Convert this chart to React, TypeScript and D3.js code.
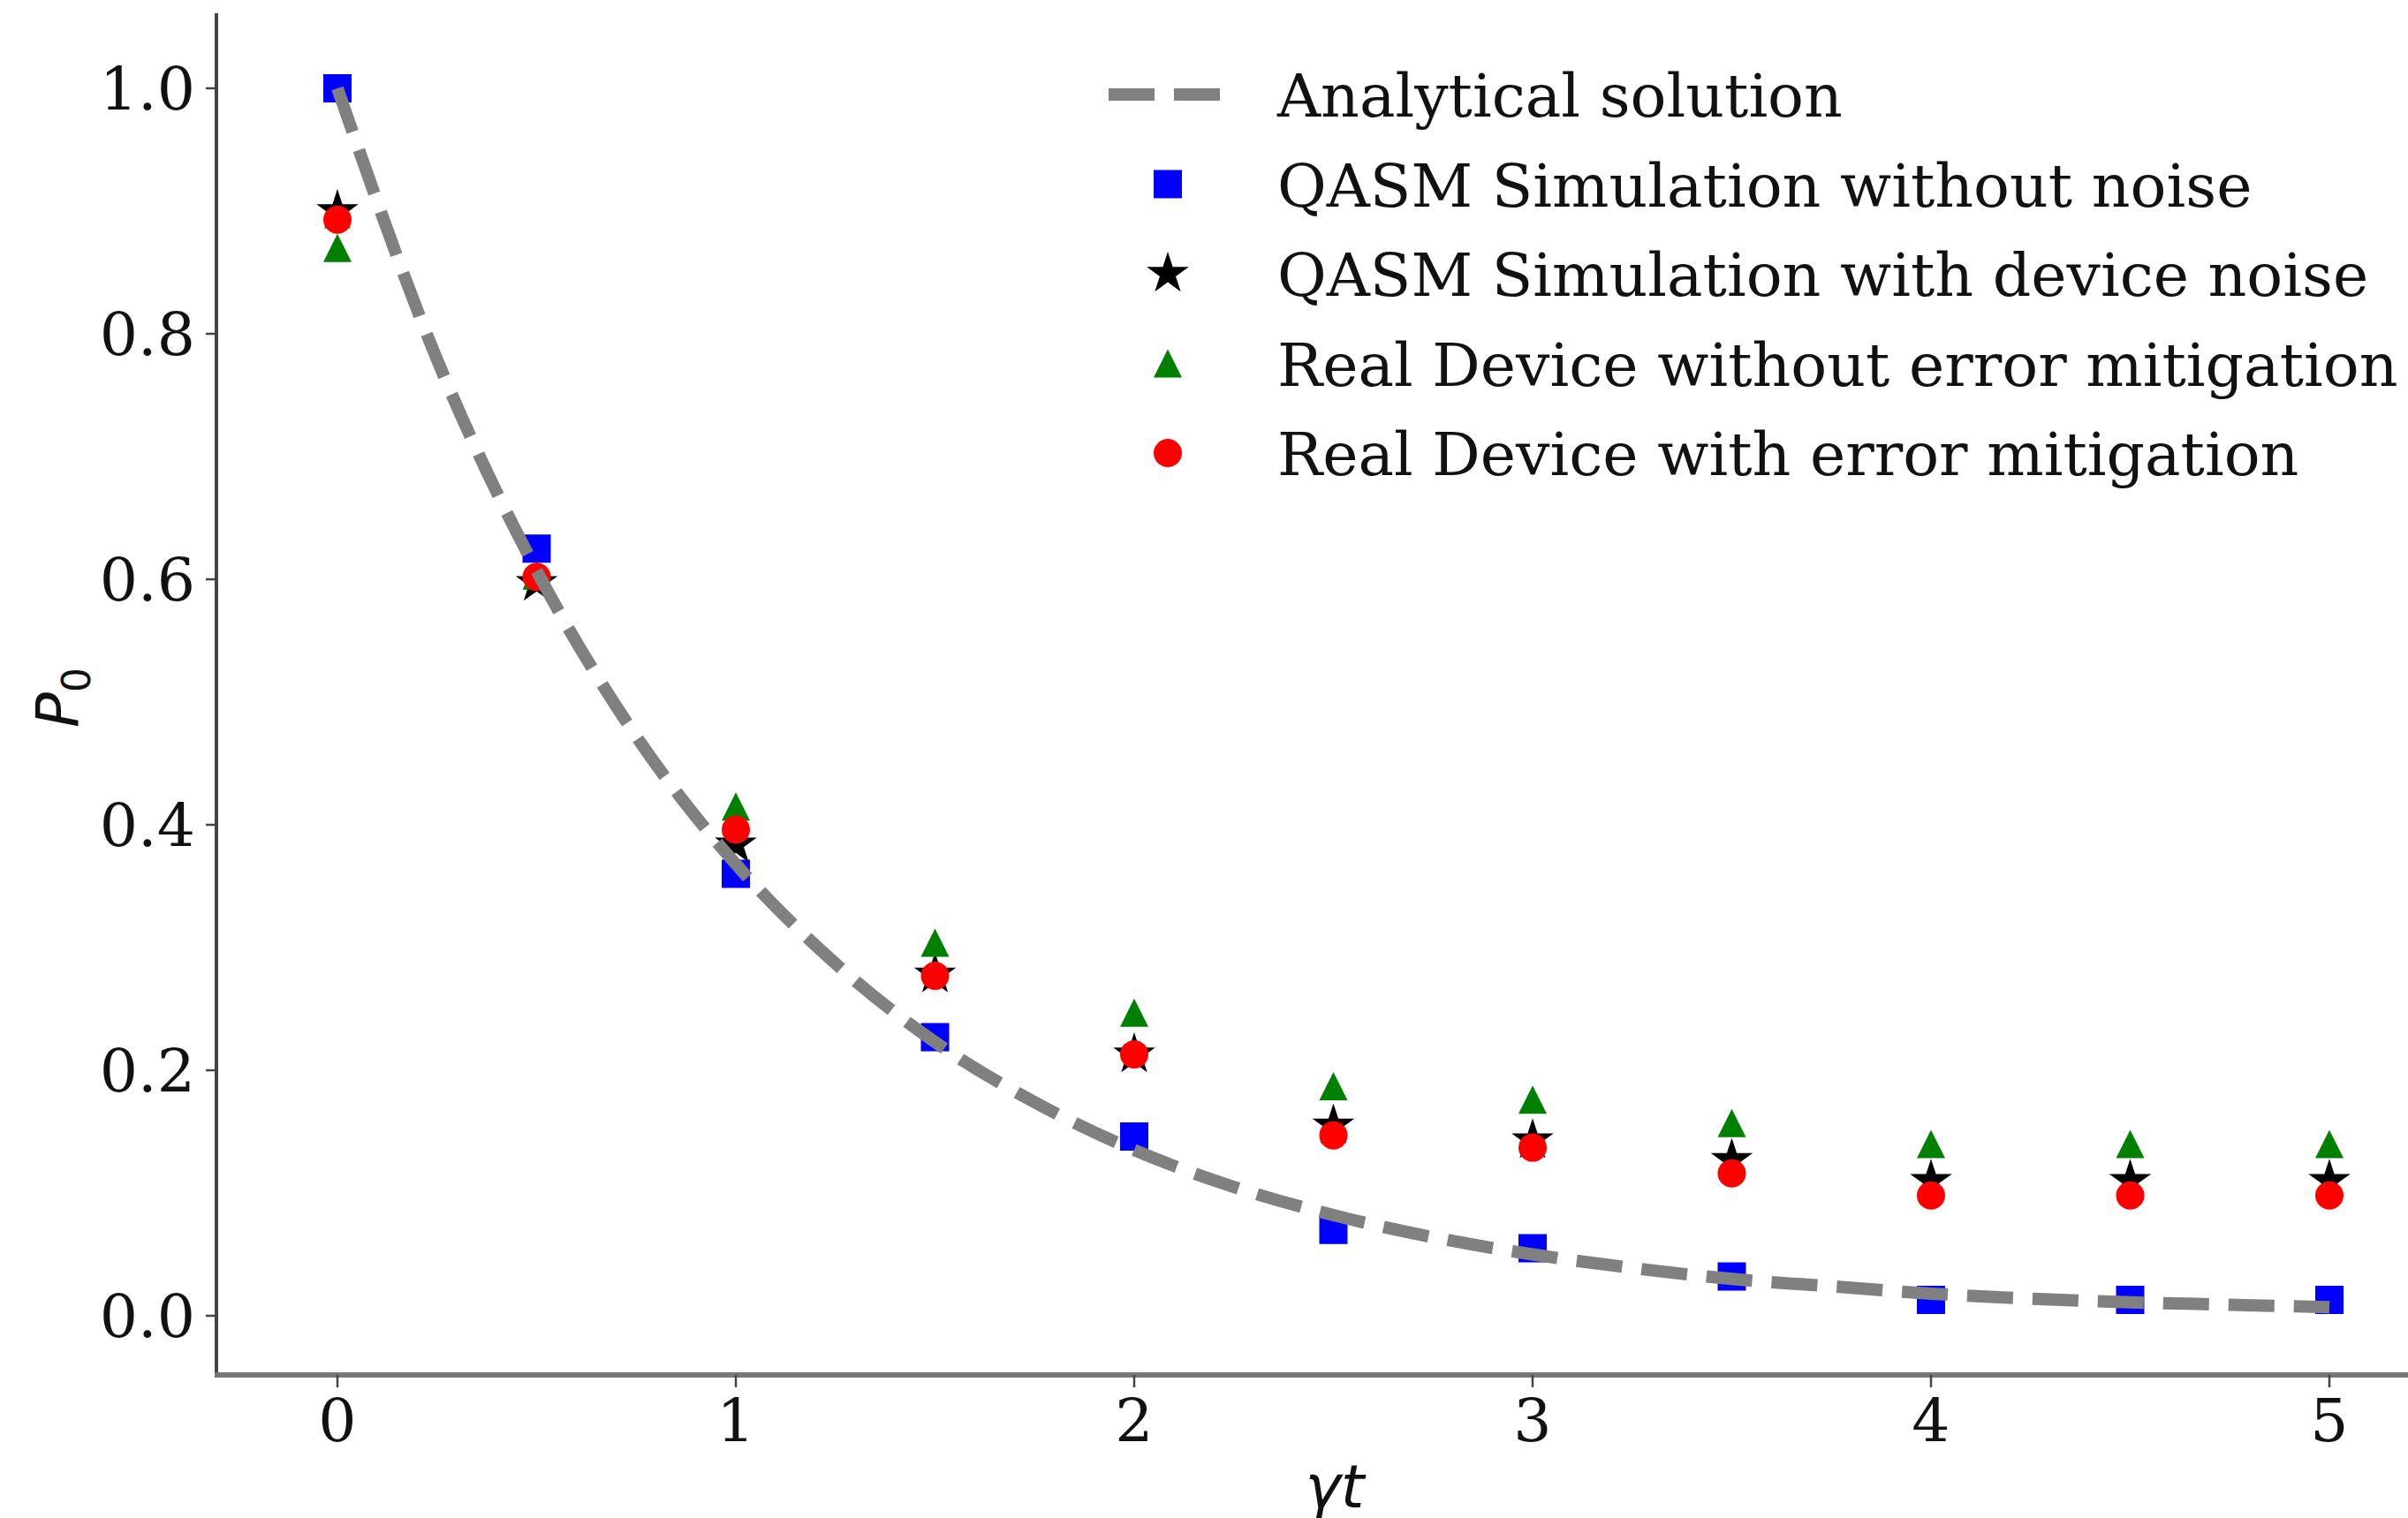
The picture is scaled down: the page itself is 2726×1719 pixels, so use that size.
import React from 'react';
import * as d3 from 'd3';

// gamma*t sample points
const times = [0, 0.5, 1, 1.5, 2, 2.5, 3, 3.5, 4, 4.5, 5];
const qasmNoNoise = [1.0, 0.625, 0.36, 0.227, 0.146, 0.07, 0.055, 0.032, 0.013, 0.013, 0.013];
const qasmDeviceNoise = [0.9, 0.597, 0.384, 0.278, 0.213, 0.155, 0.143, 0.127, 0.11, 0.11, 0.11];
const realNoMitigation = [0.87, 0.603, 0.415, 0.304, 0.247, 0.187, 0.176, 0.157, 0.14, 0.14, 0.14];
const realMitigation = [0.893, 0.602, 0.396, 0.277, 0.213, 0.147, 0.137, 0.116, 0.098, 0.098, 0.098];

// analytical curve
const curveT = [0, 0.25, 0.5, 0.75, 1, 1.25, 1.5, 1.75, 2, 2.25, 2.5, 2.75, 3, 3.25, 3.5, 3.75, 4, 4.25, 4.5, 4.75, 5];
const curveP = [1.0, 0.779, 0.607, 0.472, 0.368, 0.287, 0.223, 0.174, 0.135, 0.105, 0.082, 0.064, 0.05, 0.039, 0.03, 0.024, 0.018, 0.014, 0.011, 0.009, 0.007];

const xTicks = [0, 1, 2, 3, 4, 5];
const yTicks = [0, 0.2, 0.4, 0.6, 0.8, 1.0];

const legendLabels = [
  'Analytical solution',
  'QASM Simulation without noise',
  'QASM Simulation with device noise',
  'Real Device without error mitigation',
  'Real Device with error mitigation',
];

const W = 2726;
const H = 1719;
const serif = '"DejaVu Serif", serif';
const sans = '"DejaVu Sans", sans-serif';

const x = d3.scaleLinear().domain([0, 5]).range([382, 2637]);
const y = d3.scaleLinear().domain([0, 1]).range([1490, 100]);

const spineX = 245;
const spineY = 1557;

const MS = 32;
const squarePath = d3.symbol(d3.symbolSquare, MS * MS)()!;
const circlePath = d3.symbol(d3.symbolCircle, Math.PI * (MS / 2) * (MS / 2))()!;
const starPath = d3.symbol(d3.symbolStar, 700)()!;
const triPath = `M0,${-MS / 2}L${MS / 2},${MS / 2}L${-MS / 2},${MS / 2}Z`;

const dash = '52 22';

const markers = [
  { vals: qasmNoNoise, path: squarePath, color: '#0000ff' },
  { vals: qasmDeviceNoise, path: starPath, color: '#000000' },
  { vals: realNoMitigation, path: triPath, color: '#008000' },
  { vals: realMitigation, path: circlePath, color: '#ff0000' },
];

export default function App() {
  const line = d3
    .line<number>()
    .x((_, i) => x(curveT[i]))
    .y((d) => y(d))
    .curve(d3.curveMonotoneX);

  const legendX = 1322;
  const legendY0 = 107;
  const legendStep = 101.5;

  return (
    <svg
      width={W}
      height={H}
      style={{ position: 'absolute', left: 0, top: 0, background: '#fff' }}
    >
      <rect width={W} height={H} fill="#fff" />

      {/* markers */}
      {markers.map((m, k) => (
        <g key={k} fill={m.color}>
          {m.vals.map((v, i) => (
            <path key={i} d={m.path} transform={`translate(${x(times[i])},${y(v)})`} />
          ))}
        </g>
      ))}

      {/* analytical solution on top */}
      <path
        d={line(curveP) || ''}
        fill="none"
        stroke="#808080"
        strokeWidth={14}
        strokeDasharray={dash}
      />

      {/* spines */}
      <line x1={spineX} x2={spineX} y1={15} y2={spineY + 2} stroke="#444" strokeWidth={4} />
      <line x1={spineX - 2} x2={W} y1={spineY} y2={spineY} stroke="#777" strokeWidth={6} />

      {/* y ticks */}
      {yTicks.map((t) => (
        <g key={t}>
          <line x1={spineX - 12} x2={spineX} y1={y(t)} y2={y(t)} stroke="#444" strokeWidth={2.5} />
          <text
            x={221}
            y={y(t)}
            dy="0.36em"
            textAnchor="end"
            fontFamily={serif}
            fontSize={68}
            fill="#111"
          >
            {d3.format('.1f')(t)}
          </text>
        </g>
      ))}

      {/* x ticks */}
      {xTicks.map((t) => (
        <g key={t}>
          <line x1={x(t)} x2={x(t)} y1={spineY} y2={spineY + 14} stroke="#444" strokeWidth={2.5} />
          <text
            x={x(t)}
            y={1632}
            textAnchor="middle"
            fontFamily={serif}
            fontSize={68}
            fill="#111"
          >
            {t}
          </text>
        </g>
      ))}

      {/* axis labels */}
      <text x={1511} y={1707} textAnchor="middle" fontFamily={sans} fontSize={68} fontStyle="italic" fill="#111">
        γt
      </text>
      <text
        transform="translate(88,790) rotate(-90)"
        textAnchor="middle"
        fontFamily={sans}
        fontSize={66}
        fill="#111"
      >
        <tspan fontStyle="italic">P</tspan>
        <tspan fontSize={44} dy={14}>0</tspan>
      </text>

      {/* legend */}
      <g>
        <line
          x1={legendX - 67}
          x2={legendX + 61}
          y1={legendY0}
          y2={legendY0}
          stroke="#808080"
          strokeWidth={14}
          strokeDasharray={dash}
        />
        {markers.map((m, k) => (
          <path
            key={k}
            d={m.path}
            fill={m.color}
            transform={`translate(${legendX},${legendY0 + (k + 1) * legendStep})`}
          />
        ))}
        {legendLabels.map((l, k) => (
          <text
            key={l}
            x={1446}
            y={legendY0 + k * legendStep + 25}
            fontFamily={serif}
            fontSize={68}
            fill="#111"
          >
            {l}
          </text>
        ))}
      </g>
    </svg>
  );
}
